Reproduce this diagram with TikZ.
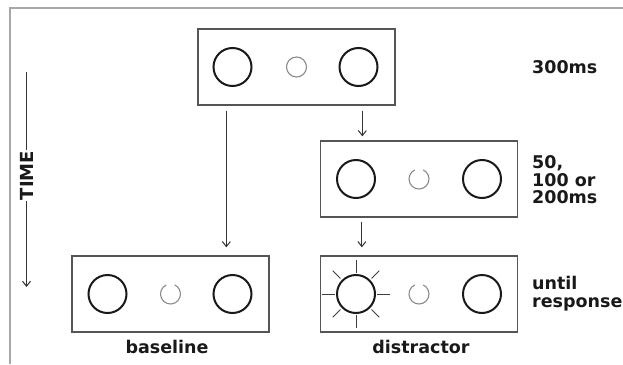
\documentclass[tikz,border=0pt]{standalone}
\usepackage{fontspec}
\setmainfont{DejaVu Sans}
\usetikzlibrary{arrows.meta}
\definecolor{boxgray}{HTML}{555555}
\definecolor{framegray}{HTML}{A8A8A8}
\definecolor{smallgray}{HTML}{8A8A8A}
\definecolor{arrgray}{HTML}{333333}
\tikzset{
  frame/.style={draw=framegray, line width=1.5pt},
  panel/.style={draw=boxgray, line width=1.3pt, rectangle, minimum width=197pt, minimum height=76pt, inner sep=0pt},
  bigc/.style={draw=black!90, line width=2pt, circle, minimum size=38pt, inner sep=0pt},
  smallc/.style={draw=smallgray, line width=1.1pt},
  ray/.style={draw=black!75, line width=1pt},
  arr/.style={draw=arrgray, line width=1pt, -{Straight Barb[length=5pt,width=8pt]}},
  lab/.style={font=\fontsize{17.5}{17.5}\selectfont\bfseries, inner sep=0pt, text=black!90},
}
\begin{document}
\begin{tikzpicture}[x=1pt,y=-1pt]
\useasboundingbox (0,0) rectangle (623,364);
\draw[frame] (10,364) -- (10,8) -- (623,8);

% panels
\node[panel] (top) at (296.5,67) {};
\node[panel] (mid) at (419,179) {};
\node[panel] (bl) at (170.5,294) {};
\node[panel] (br) at (419,294) {};

% top panel
\node[bigc] (t1) at ([xshift=-64pt]top.center) {};
\node[bigc] (t2) at ([xshift=62pt]top.center) {};
\draw[smallc] (top.center) circle (10pt);

% middle panel
\node[bigc] (m1) at ([xshift=-63pt]mid.center) {};
\node[bigc] (m2) at ([xshift=63pt]mid.center) {};
\draw[smallc] ([shift={(115:10pt)}]mid.center) arc[start angle=115, end angle=425, radius=10pt];

% baseline panel
\node[bigc] (b1) at ([xshift=-63pt]bl.center) {};
\node[bigc] (b2) at ([xshift=62pt]bl.center) {};
\draw[smallc] ([shift={(115:10pt)}]bl.center) arc[start angle=115, end angle=425, radius=10pt];

% distractor panel
\node[bigc] (sun) at ([xshift=-63pt]br.center) {};
\node[bigc] (d2) at ([xshift=63pt]br.center) {};
\draw[smallc] ([shift={(115:10pt)}]br.center) arc[start angle=115, end angle=425, radius=10pt];
\foreach \a in {0,90,180,270}
  \draw[ray] ([shift={(\a:21pt)}]sun.center) -- ([shift={(\a:34pt)}]sun.center);
\foreach \a in {45,135,225,315}
  \draw[ray] ([shift={(\a:22pt)}]sun.center) -- ([shift={(\a:33pt)}]sun.center);

% connectors
\coordinate (la) at ([xshift=29pt,yshift=-5pt]top.south west);
\draw[arr] (la) -- ([yshift=8pt]la |- bl.north);
\coordinate (ra) at ([xshift=165pt,yshift=-5pt]top.south west);
\draw[arr] (ra) -- ([yshift=4pt]ra |- mid.north);
\coordinate (ma) at ([xshift=42pt,yshift=-4pt]mid.south west);
\draw[arr] (ma) -- ([yshift=8pt]ma |- br.north);

% time axis
\node[lab, font=\fontsize{18}{18}\selectfont\bfseries, rotate=90, inner sep=1pt] (time) at (26.5,175.5) {TIME};
\coordinate (tt) at (26.5,72);
\coordinate (tb) at (26.5,287);
\draw[draw=arrgray, line width=1pt] (tt) -- (time.east);
\draw[arr] (time.west) -- (tb);

% labels
\node[lab, anchor=west] (l1) at (532,67) {300ms};
\node[lab, anchor=west, align=left] (l2) at (532,180) {50,\\100 or\\200ms};
\node[lab, anchor=west, align=left] (l3) at (532,293.5) {until\\response};
\node[lab] (blab) at (167,347) {baseline};
\node[lab] (dlab) at (421,347) {distractor};
\end{tikzpicture}
\end{document}
